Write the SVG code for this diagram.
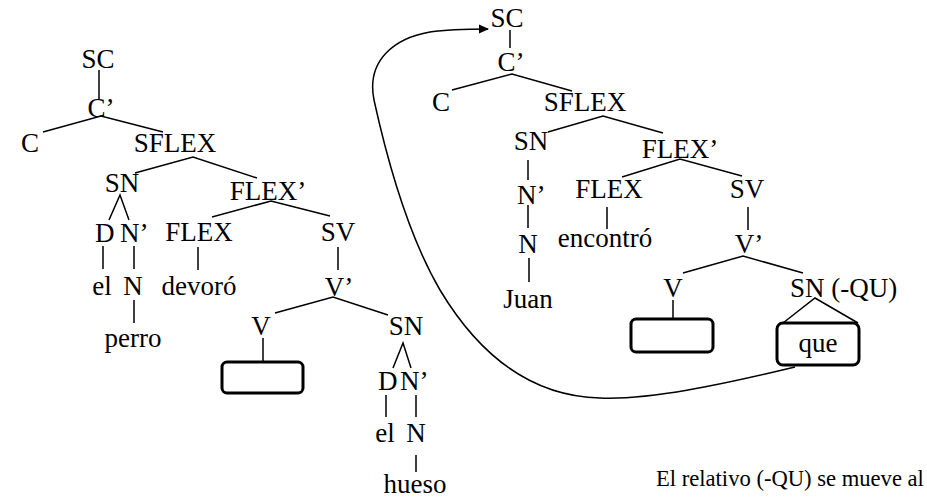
<svg xmlns="http://www.w3.org/2000/svg" width="927" height="498" viewBox="0 0 927 498">
<defs>
<style>
text{font-family:"Liberation Serif","Times New Roman",serif;font-size:27px;fill:#000}
.m{text-anchor:middle}
.e{stroke:#000;stroke-width:1.5;fill:none}
.box{stroke:#000;stroke-width:3;fill:#fff}
.cap{font-size:22.6px}
</style>
<marker id="ah" viewBox="0 0 10 10" refX="9" refY="5" markerWidth="10" markerHeight="10" markerUnits="userSpaceOnUse" orient="auto">
<path d="M0,0.5 L10,5 L0,9.5 z" fill="#000"/>
</marker>
</defs>
<rect width="927" height="498" fill="#fff"/>

<g id="connectors">
<path class="e" d="M99,70 V99"/>
<path class="e" d="M43,132 L101,116 L163,132"/>
<path class="e" d="M135,173 L193,157 L257,178"/>
<path class="e" d="M109,220 L120,195 L129,220"/>
<path class="e" d="M212,217 L271,201 L330,216"/>
<path class="e" d="M103,246 V269 M134,246 V269 M198,247 V270 M338,247 V270 M134,300 V323"/>
<path class="e" d="M275,313 L333,297 L388,315"/>
<path class="e" d="M263,338 V362"/>
<path class="e" d="M393,368 L403,343 L411,368"/>
<path class="e" d="M386,395 V417 M416,395 V417 M416,455 V472"/>
<path class="e" d="M510,30 V48"/>
<path class="e" d="M452,90 L512,74 L572,91"/>
<path class="e" d="M548,132 L603,116 L663,133"/>
<path class="e" d="M528,160 V180"/>
<path class="e" d="M622,177 L680,159 L742,176"/>
<path class="e" d="M528,205 V228 M607,207 V229 M748,207 V230 M529,258 V282"/>
<path class="e" d="M683,273 L743,256 L803,273"/>
<path class="e" d="M673,300 V319"/>
<path class="e" d="M783,323 L815,298 L858,323"/>
<path class="e" stroke-width="1.3" d="M795,367 C720,385 650,400 600,398 C520,396 470,340 440,290 C405,230 385,150 374,100 C366,60 395,38 430,32 C450,29 470,29 488,29" marker-end="url(#ah)"/>
</g>

<g id="tree-left">
<text class="m" x="98" y="68">SC</text>
<text class="m" x="101" y="117">C’</text>
<text class="m" x="30" y="152">C</text>
<text class="m" x="175" y="152">SFLEX</text>
<text class="m" x="122" y="192">SN</text>
<text class="m" x="268" y="200">FLEX’</text>
<text x="95" y="242">D</text>
<text x="120" y="242">N’</text>
<text class="m" x="199" y="241">FLEX</text>
<text class="m" x="338" y="241">SV</text>
<text class="m" x="102" y="295">el</text>
<text class="m" x="133" y="295">N</text>
<text class="m" x="199" y="295">devoró</text>
<text class="m" x="339" y="296">V’</text>
<text class="m" x="133" y="347">perro</text>
<text class="m" x="261" y="335">V</text>
<text class="m" x="406" y="335">SN</text>
<rect id="gap-left" class="box" x="222" y="362" width="81" height="31" rx="5"/>
<text x="378" y="390">D</text>
<text x="400" y="390">N’</text>
<text class="m" x="385" y="442">el</text>
<text class="m" x="416" y="442">N</text>
<text class="m" x="415" y="493">hueso</text>
</g>

<g id="tree-right">
<text class="m" x="507" y="27">SC</text>
<text class="m" x="511" y="71">C’</text>
<text class="m" x="441" y="111">C</text>
<text class="m" x="585" y="111">SFLEX</text>
<text class="m" x="531" y="150">SN</text>
<text class="m" x="680" y="158">FLEX’</text>
<text x="517" y="204">N’</text>
<text class="m" x="609" y="198">FLEX</text>
<text class="m" x="747" y="198">SV</text>
<text class="m" x="528" y="253">N</text>
<text class="m" x="605" y="247">encontró</text>
<text class="m" x="749" y="253">V’</text>
<text class="m" x="528" y="308">Juan</text>
<text class="m" x="673" y="297">V</text>
<text x="790" y="297">SN (-QU)</text>
<rect id="gap-right" class="box" x="631" y="319" width="82" height="33" rx="5"/>
<g id="que">
<rect class="box" x="777" y="323" width="82" height="42" rx="6"/>
<text class="m" x="818" y="352">que</text>
</g>
</g>

<g id="caption">
<text class="cap" x="656" y="486">El relativo (-QU) se mueve al</text>
</g>
</svg>
